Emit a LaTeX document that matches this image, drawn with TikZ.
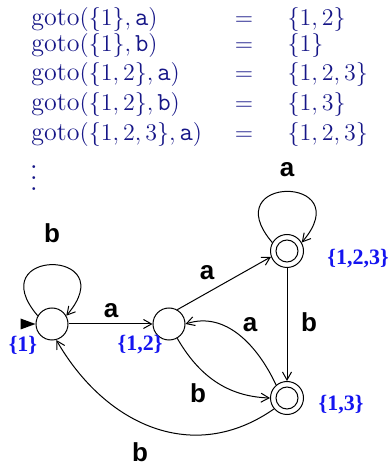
\documentclass[tikz,border=0pt]{standalone}
\usepackage{fontspec}
\newfontfamily\lblfont{Liberation Sans}
\newfontfamily\statefont{Liberation Serif}
\usetikzlibrary{arrows.meta}
\definecolor{navy}{RGB}{22,22,135}
\definecolor{setblue}{RGB}{20,20,240}

\begin{document}
\begin{tikzpicture}[x=0.5pt,y=0.5pt,>={Straight Barb[length=4pt,width=4.5pt]},line width=0.5pt,
    state/.style={circle,draw,minimum size=16pt,inner sep=0pt},
    accept/.style={state,minimum size=16.5pt,path picture={\draw (path picture bounding box.center) circle[radius=5.5pt];}},
    lbl/.style={font=\lblfont\bfseries\fontsize{13}{15}\selectfont,inner sep=0pt,anchor=base},
    setlbl/.style={font=\statefont\bfseries\fontsize{11}{13}\selectfont,text=setblue,inner sep=0pt},
    eq/.style={font=\fontsize{13}{15}\selectfont,text=navy,inner sep=0pt,anchor=base west}]
    \useasboundingbox (0,0) rectangle (391,466);
    % goto table
    \foreach \y/\lhs/\rhs [count=\i] in {440/{\{1\},\mathtt{a}}/{\{1,2\}},
        414/{\{1\},\mathtt{b}}/{\{1\}},
        385/{\{1,2\},\mathtt{a}}/{\{1,2,3\}},
        355/{\{1,2\},\mathtt{b}}/{\{1,3\}},
        325/{\{1,2,3\},\mathtt{a}}/{\{1,2,3\}}}
    {
      \node[eq] (lhs\i) at (31,\y) {$\mathrm{goto}(\lhs)$};
      \node[eq,anchor=base] (eq\i) at (244,\y) {$=$};
      \node[eq] (rhs\i) at (287,\y) {$\rhs$};
    }
    \node[text=navy,scale=1.35,inner sep=0pt,anchor=south] (dots) at (34,275) {$\vdots$};
    % automaton
    \node[state] (s1) at (52,142) {};
    \node[state] (s12) at (169,142) {};
    \node[accept] (s123) at (287,215) {};
    \node[accept] (s13) at (287,68) {};
    \node[setlbl] (n1) at (23,121) {\{1\}};
    \node[setlbl] (n12) at (140,121) {\{1,2\}};
    \node[setlbl] (n123) at (358,207) {\{1,2,3\}};
    \node[setlbl] (n13) at (341,61) {\{1,3\}};
    \fill (s1.west) -- ++(-15,5.5) -- ++(0,-11) -- cycle;
    \draw[->] (s1.150) .. controls +(-58,68) and +(58,68) .. (s1.30);
    \draw[->] (s123.150) .. controls +(-58,68) and +(58,68) .. (s123.30);
    \draw[->] (s1) -- (s12);
    \draw[->] (s12.60) -- (s123.200);
    \draw[->] (s123) -- (s13);
    \draw[->] (s12.-60) to[out=-60,in=178] (s13.west);
    \draw[->] (s13.130) to[out=115,in=18] (s12.east);
    \draw[->] (s13.220) to[out=-145,in=-60,looseness=1.1] (s1.-75);
    \node[lbl] (b1) at (52,223) {b};
    \node[lbl] (a123) at (287,289) {a};
    \node[lbl] (a1) at (111,148) {a};
    \node[lbl] (a12) at (207,186) {a};
    \node[lbl] (b123) at (309,134) {b};
    \node[lbl] (a13) at (250,134) {a};
    \node[lbl] (b12) at (198,63) {b};
    \node[lbl] (b13) at (140,4) {b};
\end{tikzpicture}
\end{document}
